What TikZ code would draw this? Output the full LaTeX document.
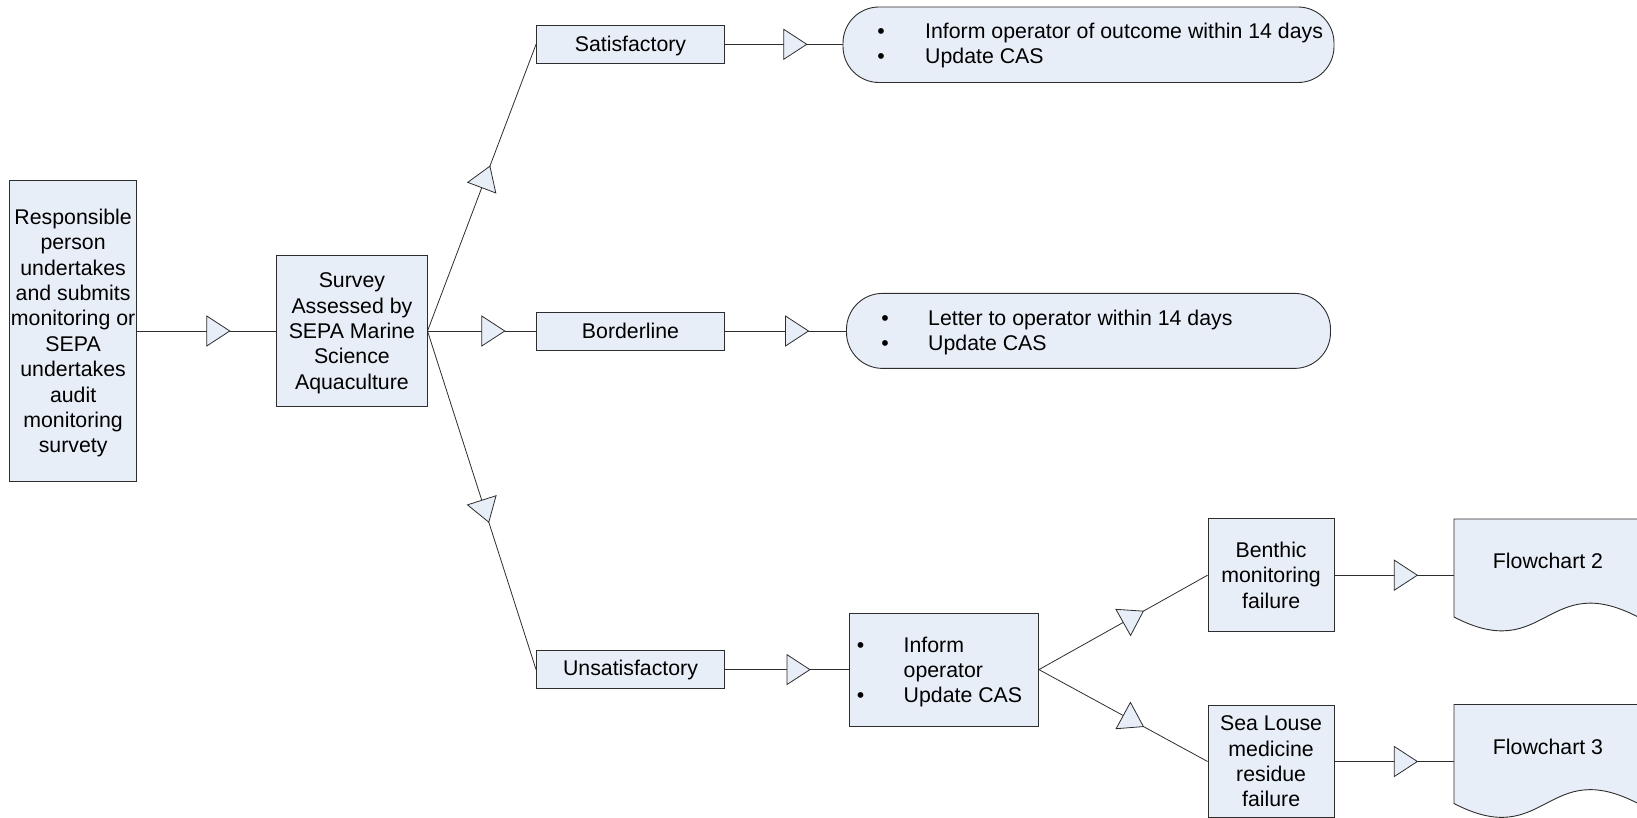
\documentclass[tikz,border=0pt]{standalone}
\usepackage{fontspec}
\setmainfont{Liberation Sans}
\usetikzlibrary{decorations.markings}
\definecolor{boxfill}{RGB}{232,238,247}
\definecolor{edge}{RGB}{45,45,45}
\newcommand\diagfont{\fontsize{21.3}{25.4}\selectfont}
\newcommand\topgap[1]{\rule{0pt}{#1}}
\tikzset{
  flowbox/.style={draw=edge, fill=boxfill, line width=0.9pt, inner sep=0pt, align=center, font=\diagfont},
  pill/.style={flowbox, rounded corners=36pt},
  conn/.style={draw=edge, line width=0.8pt, postaction={decorate},
    decoration={markings, mark=at position 0.5 with {\draw[draw=edge, fill=boxfill, line width=0.8pt, line join=miter] (0pt,15pt) -- (23pt,0pt) -- (0pt,-15pt) -- cycle;}}},
  listtxt/.style={font=\diagfont, inner sep=0pt, anchor=base west},
  bul/.style={font=\diagfont, inner sep=0pt, anchor=base},
  doc/.style={draw=edge, fill=boxfill, line width=0.9pt},
  doctxt/.style={font=\diagfont, inner sep=0pt}
}
\begin{document}
\begin{tikzpicture}[x=1pt,y=-1pt]
\useasboundingbox (0,0) rectangle (1637,818);

% main boxes
\node[flowbox, minimum width=127.4pt, minimum height=300.7pt] (resp) at (73.1,331) {\topgap{19.5pt}Responsible\\person\\undertakes\\and submits\\monitoring or\\SEPA\\undertakes\\audit\\monitoring\\survety};
\node[flowbox, minimum width=150.3pt, minimum height=150.2pt] (survey) at (351.9,331) {\topgap{19.5pt}Survey\\Assessed by\\SEPA Marine\\Science\\Aquaculture};
\node[flowbox, minimum width=188pt, minimum height=37.5pt] (sat) at (630.5,44.3) {\topgap{19.5pt}Satisfactory};
\node[flowbox, minimum width=188pt, minimum height=38pt] (border) at (630.5,331) {Borderline};
\node[flowbox, minimum width=188pt, minimum height=38pt] (unsat) at (630.5,669.6) {Unsatisfactory};

% rounded outcome boxes
\node[pill, minimum width=491pt, minimum height=75.5pt] (out1) at (1088.5,44.75) {};
\node[pill, minimum width=484pt, minimum height=75pt] (out2) at (1088.5,330.9) {};
\node[bul] (b11) at (881,38.7) {\textbullet};
\node[listtxt] (t11) at (925,38.7) {Inform operator of outcome within 14 days};
\node[bul] (b12) at (881,63.7) {\textbullet};
\node[listtxt] (t12) at (925,63.7) {Update CAS};
\node[bul] (b21) at (885,325.5) {\textbullet};
\node[listtxt] (t21) at (928,325.5) {Letter to operator within 14 days};
\node[bul] (b22) at (885,350.5) {\textbullet};
\node[listtxt] (t22) at (928,350.5) {Update CAS};

% inform box
\node[flowbox, minimum width=189.2pt, minimum height=112.7pt] (inform) at (943.9,669.6) {};
\node[bul] (b31) at (860.5,652) {\textbullet};
\node[listtxt] (t31) at (903.5,652) {Inform};
\node[listtxt] (t32) at (903.5,677) {operator};
\node[bul] (b33) at (860.5,702) {\textbullet};
\node[listtxt] (t33) at (903.5,702) {Update CAS};

% failure boxes
\node[flowbox, minimum width=126.2pt, minimum height=113pt] (benthic) at (1271.1,575.2) {Benthic\\monitoring\\failure};
\node[flowbox, minimum width=126.2pt, minimum height=112.5pt] (louse) at (1271.1,761.5) {Sea Louse\\medicine\\residue\\failure};

% flowchart documents
\draw[doc] (1454,519) -- (1638,519) -- (1638,617) .. controls (1546,569) and (1546,665) .. (1454,617) -- cycle;
\draw[doc] (1454,704.5) -- (1638,704.5) -- (1638,803.5) .. controls (1546,755.5) and (1546,851.5) .. (1454,803.5) -- cycle;
\node[doctxt] (fc2) at (1548,561) {Flowchart 2};
\node[doctxt] (fc3) at (1548,747.3) {Flowchart 3};
\coordinate (d2) at (1454,575.2);
\coordinate (d3) at (1454,761.5);

% connectors
\draw[conn] (resp.east) -- (survey.west);
\draw[conn] (survey.east) -- (sat.west);
\draw[conn] (survey.east) -- (border.west);
\draw[conn] (survey.east) -- (unsat.west);
\draw[conn] (sat.east) -- (sat.east -| out1.west);
\draw[conn] (border.east) -- (border.east -| out2.west);
\draw[conn] (unsat.east) -- (unsat.east -| inform.west);
\draw[conn] (inform.east) -- (benthic.west);
\draw[conn] (inform.east) -- (louse.west);
\draw[conn] (benthic.east) -- (d2);
\draw[conn] (louse.east) -- (d3);
\end{tikzpicture}
\end{document}
